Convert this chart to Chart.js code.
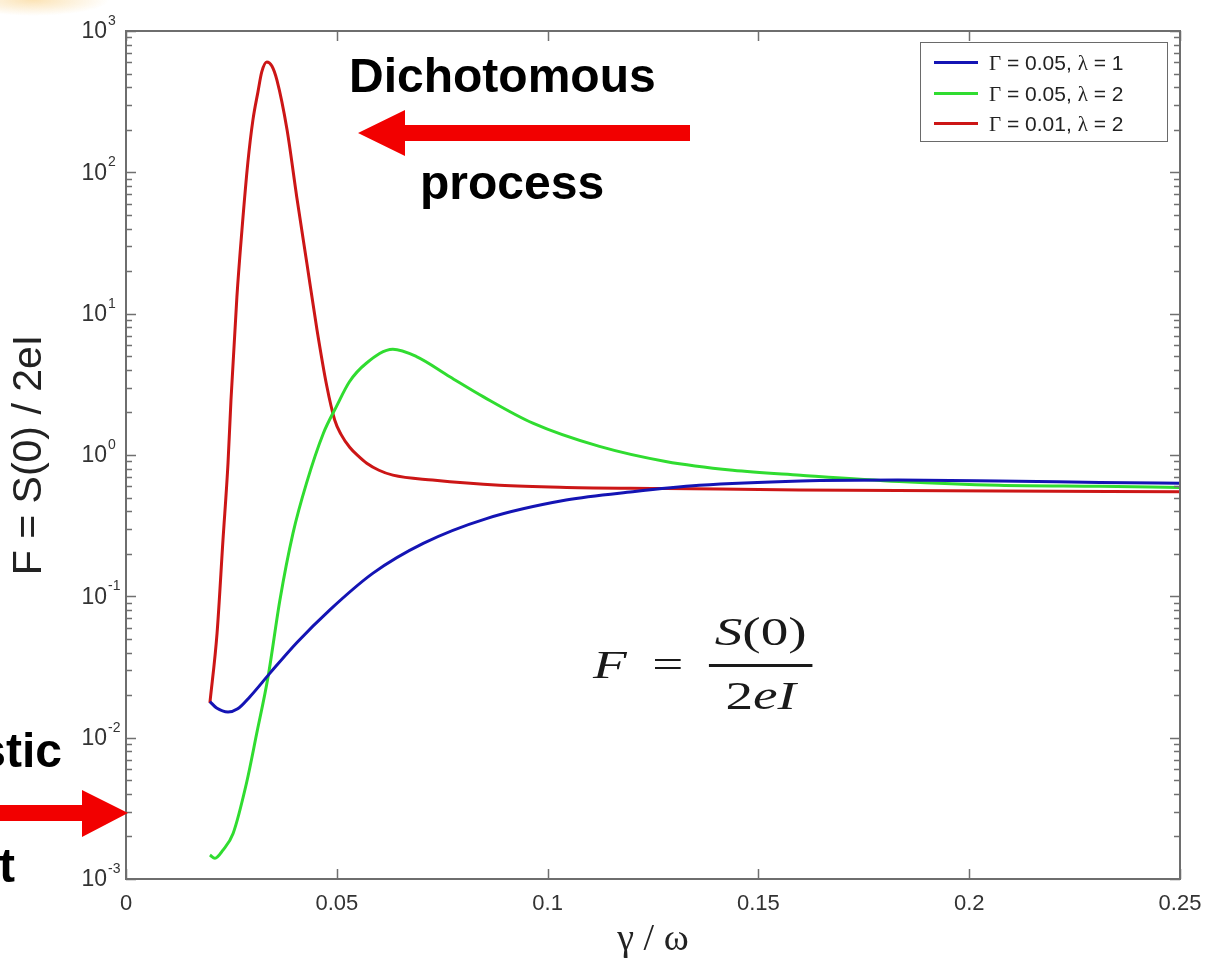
<!DOCTYPE html>
<html><head><meta charset="utf-8">
<script src="https://cdn.jsdelivr.net/npm/chart.js@4.4.1/dist/chart.umd.min.js"></script>
<style>
html,body{margin:0;padding:0;background:#fff;}
#wrap{position:relative;width:1207px;height:963px;overflow:hidden;background:#fff;}
#c{position:absolute;left:0;top:0;}
.ann{position:absolute;font-family:"Liberation Sans",Arial,sans-serif;font-weight:bold;font-size:48px;line-height:48px;color:#000;white-space:nowrap;}
#legend{position:absolute;left:920px;top:42px;width:246px;height:98px;border:1.5px solid #6a6a6a;background:#fff;font-family:"Liberation Sans",Arial,sans-serif;font-size:21px;color:#222;}
#legend .row{position:absolute;left:0;width:100%;height:30px;}
#legend .ln{position:absolute;left:13px;top:13px;width:44px;height:3px;}
#legend .tx{position:absolute;left:68px;top:0;line-height:30px;white-space:nowrap;}
.sym{font-family:"Liberation Serif","Times New Roman",serif;}
#formula{position:absolute;left:593px;top:600px;width:200px;height:130px;transform:scaleX(1.38);transform-origin:0 0;font-family:"Liberation Serif","Times New Roman",serif;font-size:40px;line-height:40px;color:#1a1a1a;}
#formula div{position:absolute;white-space:nowrap;}
#blob{position:absolute;left:0;top:0;width:110px;height:16px;background:radial-gradient(ellipse at 30% 0%,rgba(250,215,150,0.7),rgba(255,240,210,0) 70%);}
</style>
</head><body>
<div id="wrap">
<canvas id="c" width="1207" height="963"></canvas>
<div id="blob"></div>
<div class="ann" style="left:349px;top:52px;">Dichotomous</div>
<div class="ann" style="left:420px;top:159px;">process</div>
<div class="ann" style="right:1145px;top:727px;">stic</div>
<div class="ann" style="right:1192px;top:842px;">t</div>
<svg style="position:absolute;left:0;top:0;" width="1207" height="963">
  <polygon points="358,133 405,110 405,125 690,125 690,141 405,141 405,156" fill="#f20000"/>
  <polygon points="128,813 82,790 82,805 0,805 0,821 82,821 82,837" fill="#f20000"/>
</svg>
<div id="formula">
  <div style="left:0;top:44.5px;font-style:italic;">F</div>
  <div style="left:43px;top:44.5px;">=</div>
  <div style="left:84px;top:11.5px;width:75px;text-align:center;"><i>S</i>(0)</div>
  <div style="left:84px;top:64px;width:75px;height:2.5px;background:#1a1a1a;"></div>
  <div style="left:84px;top:75.5px;width:75px;text-align:center;">2<i>eI</i></div>
</div>
<div id="legend"></div>
</div>
<script>
// ---- data ----
const xTickValues = [0, 0.05, 0.1, 0.15, 0.2, 0.25];
const xTickLabels = ['0', '0.05', '0.1', '0.15', '0.2', '0.25'];
const yTickExponents = [-3, -2, -1, 0, 1, 2, 3];
const seriesLabels = ['Γ = 0.05, λ = 1', 'Γ = 0.05, λ = 2', 'Γ = 0.01, λ = 2'];

const blueX = [0.0199,0.0215,0.0242,0.0265,0.0294,0.0341,0.0405,0.0483,0.0586,0.0705,0.0855,0.1044,0.1202,0.1360,0.1600,0.1830,0.2070,0.2310,0.25];
const blueY = [0.0180,0.0162,0.0152,0.0160,0.0195,0.0285,0.047,0.080,0.146,0.237,0.355,0.48,0.55,0.61,0.655,0.665,0.655,0.64,0.63];

const greenX = [0.0199,0.0211,0.0230,0.0254,0.0286,0.0310,0.0337,0.0365,0.0396,0.0428,0.0468,0.0499,0.0530,0.0570,0.0633,0.0689,0.0768,0.0847,0.0965,0.1123,0.1280,0.1439,0.1600,0.1834,0.2070,0.2310,0.25];
const greenY = [0.00148,0.0014,0.0016,0.0021,0.0048,0.0107,0.027,0.094,0.279,0.63,1.42,2.2,3.3,4.46,5.6,4.97,3.58,2.59,1.68,1.15,0.90,0.78,0.72,0.65,0.61,0.60,0.59];

const redX = [0.0199,0.0216,0.0230,0.0242,0.0249,0.0263,0.0275,0.0289,0.0301,0.0313,0.0322,0.0334,0.0346,0.0358,0.0382,0.0405,0.0429,0.0453,0.0476,0.0495,0.0510,0.0531,0.0550,0.0571,0.0600,0.0633,0.0727,0.0886,0.1045,0.1282,0.1597,0.2071,0.25];
const redY = [0.0176,0.055,0.25,0.88,2.45,13.1,39,117,234,371,513,603,565,449,200,67,22.7,7.7,3.1,1.77,1.40,1.13,0.99,0.875,0.78,0.72,0.665,0.61,0.59,0.58,0.565,0.556,0.55];

// ---- styles ----
const seriesColors = ['#1414b4', '#30dc30', '#cc1616'];

function pts(xs, ys) { return xs.map((v, i) => ({x: v, y: ys[i]})); }
const seriesData = [pts(blueX, blueY), pts(greenX, greenY), pts(redX, redY)];

// HTML legend built from the series
const leg = document.getElementById('legend');
seriesLabels.forEach((lab, i) => {
  const row = document.createElement('div');
  row.className = 'row';
  row.style.top = (5 + i * 30.5) + 'px';
  const ln = document.createElement('div');
  ln.className = 'ln'; ln.style.background = seriesColors[i];
  const tx = document.createElement('div');
  tx.className = 'tx';
  tx.innerHTML = lab.replace(/([Γλ])/g, '<span class="sym">$1</span>');
  row.appendChild(ln); row.appendChild(tx); leg.appendChild(row);
});

const axesPlugin = {
  id: 'matlabAxes',
  afterDraw(chart) {
    const {ctx, chartArea: a, scales: {x, y}} = chart;
    ctx.save();
    ctx.strokeStyle = '#707070';
    ctx.lineWidth = 1.5;
    ctx.beginPath();
    xTickValues.forEach(v => {
      const px = Math.round(x.getPixelForValue(v)) + 0.5;
      ctx.moveTo(px, a.bottom); ctx.lineTo(px, a.bottom - 10);
      ctx.moveTo(px, a.top); ctx.lineTo(px, a.top + 10);
    });
    yTickExponents.forEach((e, i) => {
      const py = Math.round(y.getPixelForValue(Math.pow(10, e))) + 0.5;
      ctx.moveTo(a.left, py); ctx.lineTo(a.left + 10, py);
      ctx.moveTo(a.right, py); ctx.lineTo(a.right - 10, py);
      if (i < yTickExponents.length - 1) {
        for (let m = 2; m <= 9; m++) {
          const pm = Math.round(y.getPixelForValue(m * Math.pow(10, e))) + 0.5;
          ctx.moveTo(a.left, pm); ctx.lineTo(a.left + 6, pm);
          ctx.moveTo(a.right, pm); ctx.lineTo(a.right - 6, pm);
        }
      }
    });
    ctx.stroke();
    ctx.lineWidth = 2;
    ctx.strokeStyle = '#6e6e6e';
    ctx.strokeRect(a.left, a.top, a.right - a.left, a.bottom - a.top);
    // y tick labels 10^e
    ctx.fillStyle = '#333';
    ctx.textBaseline = 'middle';
    yTickExponents.forEach(e => {
      const py = y.getPixelForValue(Math.pow(10, e));
      ctx.font = '23px "Liberation Sans", Arial, sans-serif';
      ctx.textAlign = 'right';
      ctx.fillText('10', a.left - 19, py + 1);
      ctx.font = '14px "Liberation Sans", Arial, sans-serif';
      ctx.textAlign = 'left';
      ctx.fillText(String(e), a.left - 18, py - 10);
    });
    ctx.restore();
  }
};

new Chart(document.getElementById('c'), {
  type: 'line',
  data: {
    datasets: seriesData.map((d, i) => ({
      label: seriesLabels[i],
      data: d,
      borderColor: seriesColors[i],
      backgroundColor: seriesColors[i],
      borderWidth: 3,
      pointRadius: 0,
      fill: false,
      cubicInterpolationMode: 'monotone'
    }))
  },
  options: {
    responsive: false,
    animation: false,
    devicePixelRatio: 1,
    layout: {padding: {top: 31, right: 27, left: 0, bottom: 0}},
    plugins: {legend: {display: false}, tooltip: {enabled: false}},
    scales: {
      x: {
        type: 'linear', min: 0, max: 0.25,
        afterBuildTicks: s => { s.ticks = xTickValues.map(v => ({value: v})); },
        afterFit: s => { s.height = 84; s.paddingLeft = 0; s.paddingRight = 0; },
        grid: {display: false, drawTicks: false},
        border: {display: false},
        ticks: {
          callback: (v, i) => xTickLabels[i],
          font: {family: '"Liberation Sans", Arial, sans-serif', size: 22},
          color: '#333', padding: 12, maxRotation: 0, autoSkip: false
        },
        title: {display: true, text: 'γ / ω', color: '#222',
          font: {family: '"Liberation Serif", "Times New Roman", serif', size: 38, lineHeight: 1.2},
          padding: {top: 0, bottom: 0}}
      },
      y: {
        type: 'logarithmic', min: 1e-3, max: 1e3,
        afterBuildTicks: s => { s.ticks = yTickExponents.map(e => ({value: Math.pow(10, e)})); },
        afterFit: s => { s.width = 126; s.paddingTop = 0; s.paddingBottom = 0; },
        grid: {display: false, drawTicks: false},
        border: {display: false},
        ticks: {display: false},
        title: {display: true, text: 'F = S(0) / 2eI', color: '#222',
          font: {family: '"Liberation Sans", Arial, sans-serif', size: 41, lineHeight: 1.2},
          padding: {top: 5, bottom: 0}}
      }
    }
  },
  plugins: [axesPlugin]
});
</script>
</body></html>
